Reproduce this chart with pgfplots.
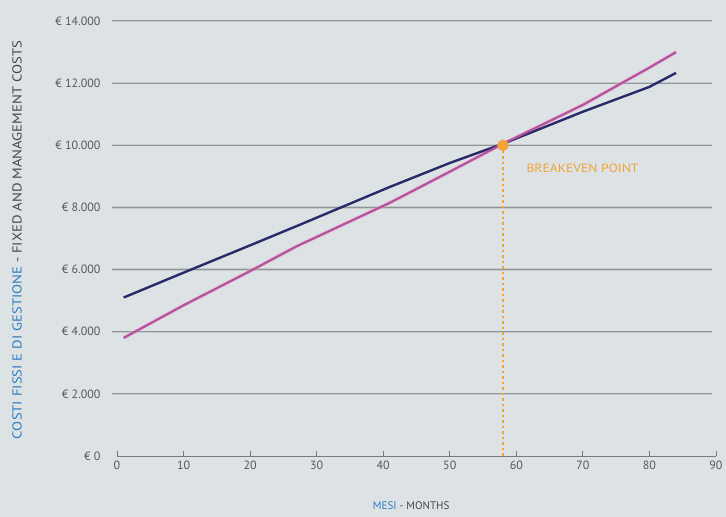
\documentclass[border=0pt]{standalone}
\usepackage{fontspec}
\setmainfont{PT Sans}
\setsansfont{PT Sans}
\usepackage{pgfplots}
\pgfplotsset{compat=1.18}
\definecolor{bg}{HTML}{DDE3E5}
\definecolor{gridc}{HTML}{8E9598}
\definecolor{navy}{HTML}{2B2A68}
\definecolor{pinkl}{HTML}{B8509E}
\definecolor{orng}{HTML}{F2A33A}
\definecolor{lblue}{HTML}{2E7CC0}
\definecolor{txt}{HTML}{555A5D}
\begin{document}
\begin{tikzpicture}
\fill[bg] (-117pt,-61pt) rectangle (609pt,456pt);
\begin{axis}[
  scale only axis,
  width=599pt, height=435pt,
  xmin=0, xmax=90, ymin=0, ymax=14000,
  axis line style={draw=none},
  xtick={0,10,...,90},
  ytick={0,2000,...,14000},
  scaled y ticks=false,
  yticklabels={€~0,€~2.000,€~4.000,€~6.000,€~8.000,€~10.000,€~12.000,€~14.000},
  clip=false,
  /pgf/number format/assume math mode=true,
  ticklabel style={font=\fontsize{12}{13}\selectfont, text=txt},
  yticklabel style={xshift=-13pt},
  xticklabel style={yshift=-1pt},
  tick style={draw=none},
]
% grid lines
\addplot[gridc!50, line width=2.4pt, forget plot] coordinates {(-0.8,2000)(89.4,2000)};
\addplot[gridc!50, line width=2.4pt, forget plot] coordinates {(-0.8,4000)(89.4,4000)};
\addplot[gridc!50, line width=2.4pt, forget plot] coordinates {(-0.8,6000)(89.4,6000)};
\addplot[gridc!50, line width=2.4pt, forget plot] coordinates {(-0.8,8000)(89.4,8000)};
\addplot[gridc!50, line width=2.4pt, forget plot] coordinates {(-0.8,10000)(89.4,10000)};
\addplot[gridc!50, line width=2.4pt, forget plot] coordinates {(-0.8,12000)(89.4,12000)};
\addplot[gridc!50, line width=2.4pt, forget plot] coordinates {(-0.8,14000)(89.4,14000)};
\addplot[gridc, line width=1pt, forget plot] coordinates {(-0.8,2000)(89.4,2000)};
\addplot[gridc, line width=1pt, forget plot] coordinates {(-0.8,4000)(89.4,4000)};
\addplot[gridc, line width=1pt, forget plot] coordinates {(-0.8,6000)(89.4,6000)};
\addplot[gridc, line width=1pt, forget plot] coordinates {(-0.8,8000)(89.4,8000)};
\addplot[gridc, line width=1pt, forget plot] coordinates {(-0.8,10000)(89.4,10000)};
\addplot[gridc, line width=1pt, forget plot] coordinates {(-0.8,12000)(89.4,12000)};
\addplot[gridc, line width=1pt, forget plot] coordinates {(-0.8,14000)(89.4,14000)};
% x axis line with ticks
\addplot[txt!80, line width=0.9pt, forget plot] coordinates {(0,0)(90,0)};
\foreach \t in {0,10,...,90} {
  \edef\tmp{\noexpand\addplot[txt!80, line width=0.8pt, forget plot] coordinates {(\t,0)(\t,150)};}
  \tmp
}
% series
\addplot[pinkl!45, line width=4pt, opacity=0.5] coordinates {
(1,3800)(10,4850)(20,5950)(27,6750)(35,7550)(41,8150)(50,9150)(58,10050)(70,11300)(80,12500)(84,13000)};
\addplot[navy, line width=2.4pt] coordinates {
(1,5100)(10,5900)(20,6780)(27,7400)(41,8660)(50,9430)(58,10050)(70,11080)(80,11880)(84,12330)};
\addplot[pinkl, line width=2.2pt] coordinates {
(1,3800)(10,4850)(20,5950)(27,6750)(35,7550)(41,8150)(50,9150)(58,10050)(70,11300)(80,12500)(84,13000)};
% breakeven
\addplot[orng, line width=2.8pt, dash pattern=on 2.5pt off 3pt] coordinates {(58,10000)(58,0)};
\addplot[only marks, mark=*, mark size=5.5pt, orng, draw=none] coordinates {(58,10000)};
\node[anchor=west, text=orng, font=\fontsize{12}{13}\selectfont, inner sep=0pt] at (axis cs:61.5,9270) {\resizebox{112pt}{\height}{BREAKEVEN POINT}};
% axis labels
\node[font=\fontsize{11}{12}\selectfont] at (axis cs:44.2,-1600) {\textcolor{lblue}{MESI} \textcolor{txt!80!black}{- MONTHS}};
\end{axis}
\node[rotate=90, font=\fontsize{13}{14}\selectfont, inner sep=0pt] at (-100pt,216pt) {\resizebox{398pt}{\height}{\textcolor{lblue}{COSTI FISSI E DI GESTIONE} \textcolor{txt!80!black}{- FIXED AND MANAGEMENT COSTS}}};
\end{tikzpicture}
\end{document}
